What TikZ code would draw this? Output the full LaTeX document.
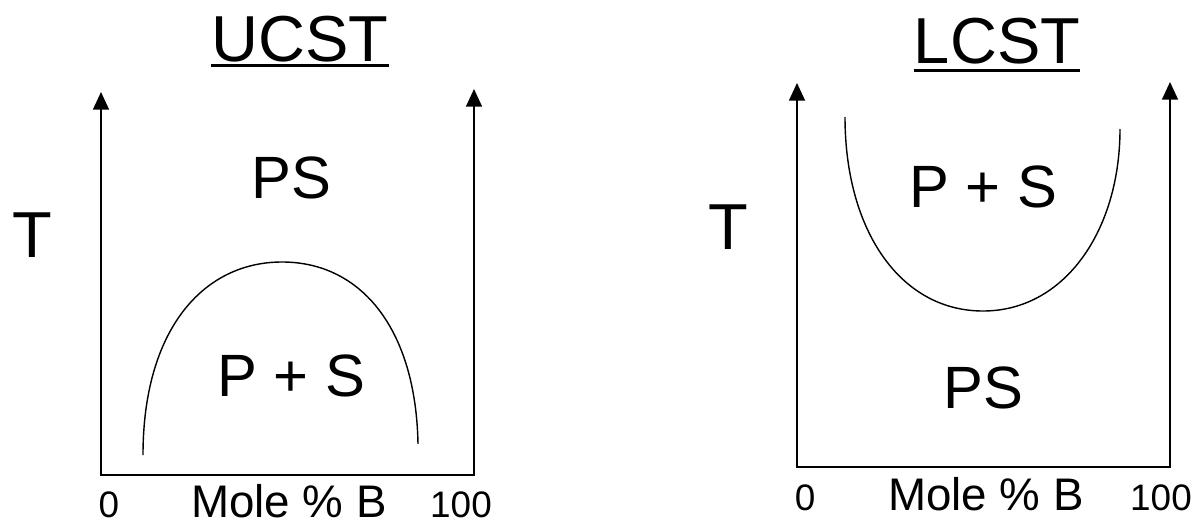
\documentclass[tikz,border=0pt]{standalone}
\usepackage{fontspec}
\setmainfont{Liberation Sans}
\usepackage{tikz}
\usetikzlibrary{arrows.meta,positioning,calc}

\tikzset{
  eixo/.style={line width=1.1pt, {Triangle[width=9pt,length=10pt]}-{Triangle[width=9pt,length=10pt]}},
  curva/.style={line width=0.8pt},
  titulo/.style={inner sep=0pt, anchor=base, font=\fontsize{37}{40}\selectfont},
  fase/.style={inner sep=0pt, anchor=base, font=\fontsize{34}{38}\selectfont},
  eixotxt/.style={inner sep=0pt, anchor=base, font=\fontsize{26}{30}\selectfont},
  escala/.style={inner sep=0pt, anchor=base, font=\fontsize{21}{24}\selectfont}
}

\begin{document}
\begin{tikzpicture}[x=0.02cm, y=-0.02cm]
        \useasboundingbox (0,0) rectangle (1193,524);

        % Diagrama UCST
        \node[titulo] (ucst) at (300,61) {UCST};
        \draw[line width=1.7pt] ([yshift=-2.5pt]ucst.base west) -- ([yshift=-2.5pt]ucst.base east);
        \coordinate (u-top) at (101,92);
        \coordinate (u-o) at (101,475);
        \coordinate (u-x) at (474,475);
        \coordinate (u-right) at (474,89);
        \draw[eixo] (u-top) -- (u-o) -- (u-x) -- (u-right);
        \node[titulo] (u-T) at (32,257) {T};
        \node[fase] (u-ps) at (291,198) {PS};
        \node[fase] (u-pmais) at (291,396) {P + S};
        \draw[curva] (143,455) .. controls (143,330) and (203,262) .. (282,262)
                     .. controls (362,262) and (416,330) .. (418,444);
        \node[escala] (u-zero) at (109,517) {0};
        \node[eixotxt] (u-mole) at (289,517) {Mole \% B};
        \node[escala] (u-cem) at (461,517) {100};

        % Diagrama LCST
        \node[titulo] (lcst) at (997,63) {LCST};
        \draw[line width=1.7pt] ([yshift=-4.5pt]lcst.base west) -- ([yshift=-4.5pt]lcst.base east);
        \coordinate (l-top) at (797,83);
        \coordinate (l-o) at (797,467);
        \coordinate (l-x) at (1170,467);
        \coordinate (l-right) at (1170,82);
        \draw[eixo] (l-top) -- (l-o) -- (l-x) -- (l-right);
        \node[titulo] (l-T) at (728,249) {T};
        \node[fase] (l-pmais) at (983,207) {P + S};
        \node[fase] (l-ps) at (983,408) {PS};
        \draw[curva] (845,117) .. controls (845,230) and (900,311) .. (983,311)
                     .. controls (1065,311) and (1120,230) .. (1120,129);
        \node[escala] (l-zero) at (805,510) {0};
        \node[eixotxt] (l-mole) at (986,510) {Mole \% B};
        \node[escala] (l-cem) at (1161,510) {100};
    \end{tikzpicture}
\end{document}
